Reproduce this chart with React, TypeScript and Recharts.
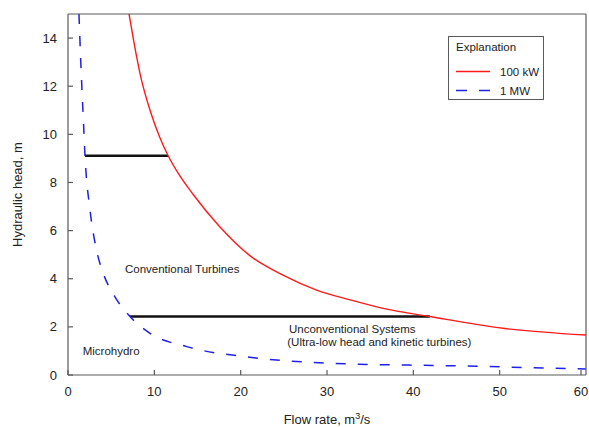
import React from 'react';
import { LineChart, Line, XAxis, YAxis, ReferenceDot } from 'recharts';

const xTicks = [0, 10, 20, 30, 40, 50, 60];
const yTicks = [0, 2, 4, 6, 8, 10, 12, 14];

// 100 kW curve
const flow100kW = [7.07, 7.65, 8.42, 9.5, 10.6, 11.6, 13.0, 14.5, 17.6, 21.1, 24.9, 28.8, 32.7, 36.5, 41.9, 50.4, 60];
const head100kW = [15, 13.8, 12.4, 11.0, 9.9, 9.11, 8.25, 7.5, 6.15, 4.95, 4.15, 3.53, 3.12, 2.77, 2.43, 1.94, 1.66];

// 1 MW curve
const flow1MW = [1.27, 1.47, 1.78, 1.97, 2.55, 3.3, 4.09, 5.44, 7.18, 9.5, 13.75, 21.5, 32.7, 43.5, 60];
const head1MW = [15, 13.1, 10.6, 9.11, 6.86, 5.2, 4.22, 3.25, 2.43, 1.73, 1.18, 0.72, 0.46, 0.39, 0.25];

// black boundaries between regions
const upperFlow = [1.97, 11.6];
const upperHead = [9.11, 9.11];
const lowerFlow = [7.18, 41.9];
const lowerHead = [2.43, 2.43];

const seriesNames = ['100 kW', '1 MW'];
const regionLabels = ['Conventional Turbines', 'Microhydro', 'Unconventional Systems', '(Ultra-low head and kinetic turbines)'];
const regionFlow = [6.6, 1.7, 25.6, 25.4];
const regionHead = [4.4, 1.0, 1.9, 1.37];

const toPoints = (xs: number[], ys: number[]) => xs.map((x, i) => ({ x, y: ys[i] }));

const AXIS = '#5a5a5a';
const TEXT = '#222';
const RED = '#ff1a1a';
const BLUE = '#1f1fe6';
const FONT = '"Liberation Sans", Arial, sans-serif';

const BottomTick = (props: any) => {
  const { x, y, payload } = props;
  return (
    <g>
      <line x1={x} y1={y} x2={x} y2={y - 5} stroke={AXIS} strokeWidth={1.2} />
      <text x={x} y={y + 21} textAnchor="middle" fontSize={13} fill={TEXT}>{payload.value}</text>
    </g>
  );
};

const LeftTick = (props: any) => {
  const { x, y, payload } = props;
  return (
    <g>
      <line x1={x} y1={y} x2={x + 5} y2={y} stroke={AXIS} strokeWidth={1.2} />
      <text x={x - 11} y={y + 4.5} textAnchor="end" fontSize={13} fill={TEXT}>{payload.value}</text>
    </g>
  );
};

const TopTick = (props: any) => (
  <line x1={props.x} y1={props.y} x2={props.x} y2={props.y + 5} stroke={AXIS} strokeWidth={1.2} />
);

const RightTick = (props: any) => (
  <line x1={props.x} y1={props.y} x2={props.x - 5} y2={props.y} stroke={AXIS} strokeWidth={1.2} />
);

const App = () => {
  const red = toPoints(flow100kW, head100kW);
  const blue = toPoints(flow1MW, head1MW);
  const upper = toPoints(upperFlow, upperHead);
  const lower = toPoints(lowerFlow, lowerHead);

  return (
    <div style={{ position: 'absolute', left: 0, top: 0, width: 589, height: 427, fontFamily: FONT, background: '#fff' }}>
      <LineChart width={589} height={427} margin={{ top: 0, right: 0, bottom: 0, left: 0 }} style={{ fontFamily: FONT }}>
        <XAxis
          dataKey="x" type="number" domain={[0, 60]} ticks={xTicks} allowDataOverflow
          height={52} tickSize={0} tickMargin={0} tickLine={false}
          axisLine={{ stroke: AXIS, strokeWidth: 1.2 }} tick={BottomTick}
          label={(p: any) => {
            const vb = p.viewBox;
            return (
              <text x={vb.x + vb.width / 2} y={vb.y + 49} textAnchor="middle" fontSize={13} fill={TEXT}>
                <tspan>Flow rate, m</tspan>
                <tspan dy={-5} fontSize={9}>3</tspan>
                <tspan dy={5}>/s</tspan>
              </text>
            );
          }}
        />
        <XAxis
          xAxisId="top" orientation="top" dataKey="x" type="number" domain={[0, 60]} ticks={xTicks}
          height={14} tickSize={0} tickMargin={0} tickLine={false}
          axisLine={{ stroke: AXIS, strokeWidth: 1.2 }} tick={TopTick}
        />
        <YAxis
          type="number" domain={[0, 15]} ticks={yTicks} allowDataOverflow
          width={68} tickSize={0} tickMargin={0} tickLine={false}
          axisLine={{ stroke: AXIS, strokeWidth: 1.2 }} tick={LeftTick}
          label={(p: any) => {
            const vb = p.viewBox;
            const cx = vb.x + 22;
            const cy = vb.y + vb.height / 2;
            return (
              <text x={cx} y={cy} transform={`rotate(-90 ${cx} ${cy})`} textAnchor="middle" fontSize={13} fill={TEXT}>
                Hydraulic head, m
              </text>
            );
          }}
        />
        <YAxis
          yAxisId="right" orientation="right" type="number" domain={[0, 15]} ticks={yTicks}
          width={3} tickSize={0} tickMargin={0} tickLine={false}
          axisLine={{ stroke: AXIS, strokeWidth: 1.2 }} tick={RightTick}
        />

        <Line data={upper} dataKey="y" type="linear" stroke="#111" strokeWidth={2.5} dot={false} isAnimationActive={false} />
        <Line data={lower} dataKey="y" type="linear" stroke="#111" strokeWidth={2.5} dot={false} isAnimationActive={false} />
        <Line data={red} dataKey="y" name={seriesNames[0]} type="monotone" stroke={RED} strokeWidth={1.4} dot={false} isAnimationActive={false} />
        <Line data={blue} dataKey="y" name={seriesNames[1]} type="monotone" stroke={BLUE} strokeWidth={1.5} strokeDasharray="10 12" dot={false} isAnimationActive={false} />

        {regionLabels.map((txt, i) => (
          <ReferenceDot
            key={txt}
            x={regionFlow[i]}
            y={regionHead[i]}
            r={0}
            stroke="none"
            fill="none"
            label={{ value: txt, position: 'right', offset: 0, fontSize: 11.5, fill: TEXT }}
          />
        ))}
      </LineChart>

      <div style={{ position: 'absolute', left: 448, top: 36, width: 96, height: 64, border: `1px solid ${AXIS}`, boxSizing: 'border-box', background: '#fff' }}>
        <svg width={94} height={62} style={{ display: 'block', fontFamily: FONT }}>
          <text x={7} y={14} fontSize={11.5} fill={TEXT}>Explanation</text>
          <line x1={7} y1={34.5} x2={41} y2={34.5} stroke={RED} strokeWidth={1.5} />
          <text x={51} y={38.5} fontSize={11.5} fill={TEXT}>{seriesNames[0]}</text>
          <line x1={7} y1={53.5} x2={41} y2={53.5} stroke={BLUE} strokeWidth={1.5} strokeDasharray="11 12" />
          <text x={51} y={57.5} fontSize={11.5} fill={TEXT}>{seriesNames[1]}</text>
        </svg>
      </div>
    </div>
  );
};

export default App;
